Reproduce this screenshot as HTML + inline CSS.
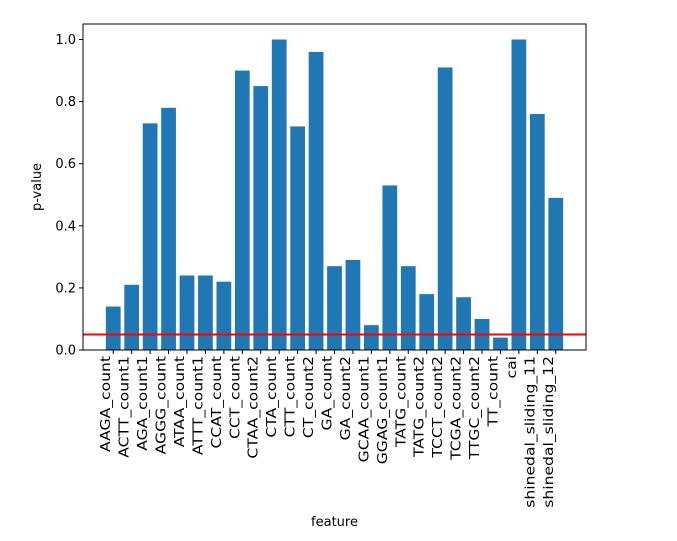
<!DOCTYPE html>
<html><head><meta charset="utf-8"><style>
body{margin:0;background:#fff;}
svg{display:block;font-family:"DejaVu Sans","Liberation Sans",sans-serif;}
</style></head><body>
<svg id="chart" width="677" height="541"></svg>
<script>
const categories=["AAGA_count","ACTT_count1","AGA_count1","AGGG_count","ATAA_count","ATTT_count1","CCAT_count","CCT_count","CTAA_count2","CTA_count","CTT_count","CT_count2","GA_count","GA_count2","GCAA_count1","GGAG_count1","TATG_count","TATG_count2","TCCT_count2","TCGA_count2","TTGC_count2","TT_count","cai","shinedal_sliding_11","shinedal_sliding_12"];
const pvalues=[0.14,0.21,0.73,0.78,0.24,0.24,0.22,0.90,0.85,1.0,0.72,0.96,0.27,0.29,0.08,0.53,0.27,0.18,0.91,0.17,0.10,0.04,1.0,0.76,0.49];
const yTicks=[0,0.2,0.4,0.6,0.8,1.0];
const yTickLabels=["0.0","0.2","0.4","0.6","0.8","1.0"];
const threshold=0.05;

const svg=document.getElementById('chart');
const NS='http://www.w3.org/2000/svg';
const L=83,R=586,T=24,B=350;
const n=categories.length;
const xmin=-0.4-0.05*(n-1+0.8), xmax=n-1+0.4+0.05*(n-1+0.8);
const ymin=0, ymax=Math.max(...pvalues)*1.05;
const x=v=>L+(v-xmin)/(xmax-xmin)*(R-L);
const y=v=>B-(v-ymin)/(ymax-ymin)*(B-T);
function mk(tag,attrs,parent){const e=document.createElementNS(NS,tag);for(const k in attrs)e.setAttribute(k,attrs[k]);(parent||svg).appendChild(e);return e;}

const bars=mk('g',{});


pvalues.forEach((v,i)=>{
  const r=mk('rect',{x:x(i-0.4),y:y(v),width:x(i+0.4)-x(i-0.4),height:y(0)-y(v),fill:'#1f77b4'},bars);
  
  
});
const tl=mk('line',{x1:L,x2:R,y1:y(threshold),y2:y(threshold),stroke:'#ff0000','stroke-width':2});



const frame=mk('rect',{x:L,y:T,width:R-L,height:B-T,fill:'none',stroke:'#000','stroke-width':1});



yTicks.forEach((t,i)=>{
  const ln=mk('line',{x1:L-4,x2:L,y1:y(t),y2:y(t),stroke:'#000'});
  
  
  const tx=mk('text',{x:L-7,y:y(t)+4.5,'text-anchor':'end','font-size':13});
  tx.textContent=yTickLabels[i];
  
  
});
categories.forEach((c,i)=>{
  const ln=mk('line',{x1:x(i),x2:x(i),y1:B,y2:B+4,stroke:'#000'});
  
  
  const tx=mk('text',{x:0,y:0,'text-anchor':'end','font-size':13,transform:`translate(${x(i)-3},${B+6}) rotate(-90) scale(1.2,1)`});
  tx.textContent=c;
  
  
});
const xt=mk('text',{x:(L+R)/2,y:526,'text-anchor':'middle','font-size':13});
xt.textContent='feature';


const yt=mk('text',{x:0,y:0,'text-anchor':'middle','font-size':13,transform:`translate(41,${(T+B)/2}) rotate(-90)`});
yt.textContent='p-value';


</script>
</body></html>
